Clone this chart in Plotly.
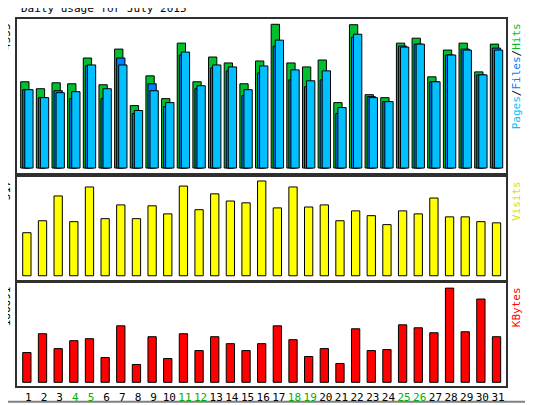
import plotly.graph_objects as go

days = list(range(1, 32))
weekend = [4, 5, 11, 12, 18, 19, 25, 26]

hits = [2720, 2501, 2688, 2657, 3470, 2626, 3751, 1969, 2907, 2188, 3939, 2720, 3501, 3314, 2657, 3376,
        4533, 3314, 3189, 3407, 2063, 4520, 2313, 2219, 3939, 4095, 2876, 3720, 3939, 3032, 3908]
files = [2470, 2219, 2438, 2188, 3220, 2188, 3470, 1719, 2657, 1938, 3564, 2501, 3157, 3064, 2282, 3001,
         3845, 2782, 2563, 2782, 1719, 4126, 2251, 2094, 3845, 3908, 2720, 3564, 3751, 2938, 3782]
pages = [2470, 2219, 2376, 2407, 3251, 2501, 3251, 1813, 2438, 2063, 3657, 2595, 3251, 3189, 2470, 3220,
         4033, 3095, 2751, 3064, 1907, 4220, 2219, 2094, 3814, 3908, 2720, 3564, 3720, 2938, 3720]
visits = [144, 184, 267, 181, 297, 191, 237, 191, 234, 207, 300, 221, 274, 250, 244, 317,
          227, 297, 230, 237, 184, 217, 201, 171, 217, 207, 260, 197, 197, 181, 177]
kbytes = [58950, 96290, 66810, 82530, 86460, 49125, 112000, 35370, 90390, 47160, 96290, 62880, 90390,
          76640, 62880, 76640, 112000, 84500, 51090, 66810, 37340, 106110, 62880, 64850, 113970, 108080,
          98250, 186691, 100220, 165060, 90390]

ticktext = [f"<span style='color:#00b000'>{d}</span>" if d in weekend else str(d) for d in days]
line = dict(color="black", width=1)
mono = "DejaVu Sans Mono"

fig = go.Figure()
fig.add_trace(go.Bar(x=days, y=hits, offset=-0.49, width=0.53, marker=dict(color="#00c030", line=line), yaxis="y"))
fig.add_trace(go.Bar(x=days, y=files, offset=-0.36, width=0.53, marker=dict(color="#0080ff", line=line), yaxis="y"))
fig.add_trace(go.Bar(x=days, y=pages, offset=-0.23, width=0.53, marker=dict(color="#00c0ff", line=line), yaxis="y"))
fig.add_trace(go.Bar(x=days, y=visits, offset=-0.36, width=0.53, marker=dict(color="#ffff00", line=line),
                     xaxis="x2", yaxis="y2"))
fig.add_trace(go.Bar(x=days, y=kbytes, offset=-0.36, width=0.53, marker=dict(color="#ff0000", line=line),
                     xaxis="x3", yaxis="y3"))

# page body adds ~8px offset, so margins are shifted to compensate
ax = dict(range=[0.275, 31.51], showline=True, mirror=True, linecolor="#303030", linewidth=2,
          showgrid=False, zeroline=False, ticks="")
fig.update_layout(
    width=533, height=405, barmode="overlay", showlegend=False,
    margin=dict(l=9, r=35, t=9, b=26),
    paper_bgcolor="white", plot_bgcolor="white",
    font=dict(family=mono, size=11, color="black"),
    xaxis=dict(ax, showticklabels=False, anchor="y"),
    xaxis2=dict(ax, showticklabels=False, anchor="y2", matches="x"),
    xaxis3=dict(ax, anchor="y3", tickvals=days, ticktext=ticktext, tickfont=dict(family=mono, size=11)),
    yaxis=dict(ax, range=[-150, 4700], domain=[0.581, 1], showticklabels=False),
    yaxis2=dict(ax, range=[-14, 331], domain=[0.289, 0.570], showticklabels=False),
    yaxis3=dict(ax, range=[-7300, 197100], domain=[0, 0.281], showticklabels=False),
)

fig.add_shape(type="rect", xref="paper", yref="paper", x0=-16/489, x1=514/489, y0=-16/370, y1=386/370,
              line=dict(color="#808080", width=2), layer="below")

anns = [
    dict(x=0.005, y=1.005, text="Daily usage for July 2015", xanchor="left", yanchor="bottom", textangle=0),
    dict(x=-0.004, y=0.995, text="4533", xanchor="right", yanchor="top", textangle=-90),
    dict(x=-0.004, y=0.565, text="317", xanchor="right", yanchor="top", textangle=-90),
    dict(x=-0.004, y=0.276, text="186691", xanchor="right", yanchor="top", textangle=-90),
    dict(x=1.004, y=0.995, xanchor="left", yanchor="top", textangle=-90,
         text="<span style='color:#00c0ff'>Pages</span>/<span style='color:#0080ff'>Files</span>/"
              "<span style='color:#00c030'>Hits</span>"),
    dict(x=1.004, y=0.565, xanchor="left", yanchor="top", textangle=-90,
         text="<span style='color:#e0e000'>Visits</span>"),
    dict(x=1.004, y=0.276, xanchor="left", yanchor="top", textangle=-90,
         text="<span style='color:#ff0000'>KBytes</span>"),
]
for a in anns:
    fig.add_annotation(xref="paper", yref="paper", showarrow=False, font=dict(family=mono, size=11), **a)

fig.write_html("out.html")
